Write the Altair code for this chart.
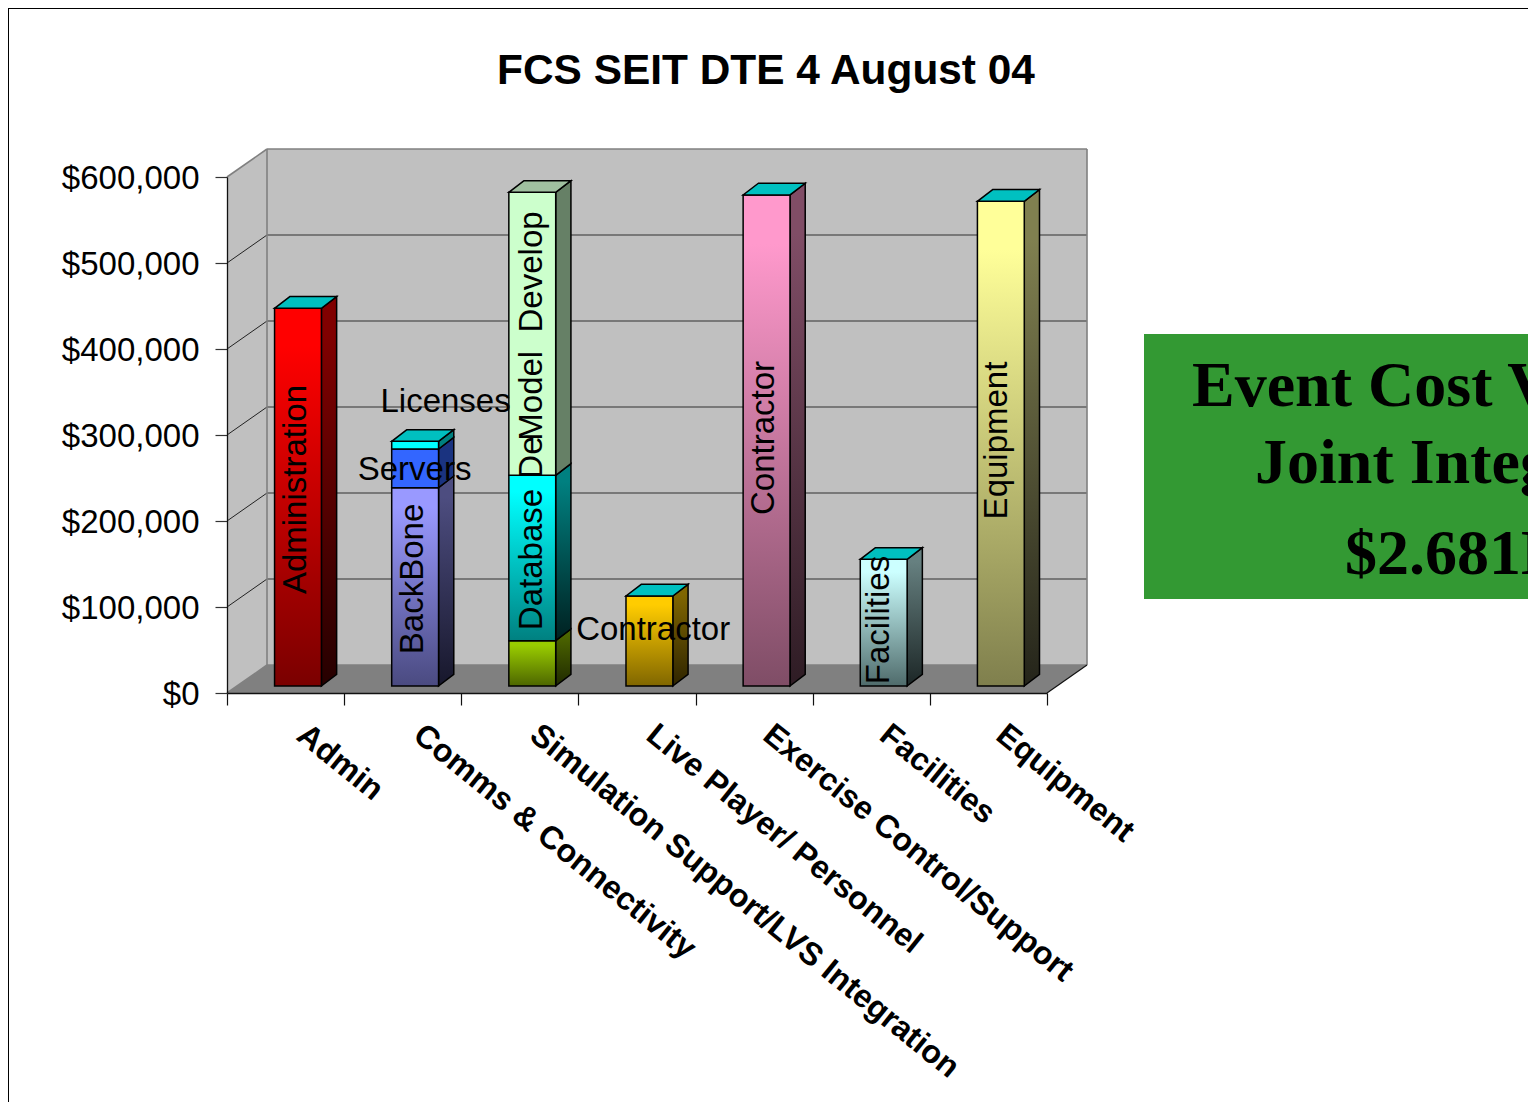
import altair as alt
import pandas as pd

# ---- chart values -------------------------------------------------------
categories = ["Admin", "Comms & Connectivity", "Simulation Support/LVS Integration",
              "Live Player/ Personnel", "Exercise Control/Support", "Facilities", "Equipment"]
y_ticks = [0, 100000, 200000, 300000, 400000, 500000, 600000]

seg_category = [0, 1, 1, 1, 2, 2, 2, 3, 4, 5, 6]
seg_low = [0, 0, 230600, 275600, 0, 52700, 245000, 0, 0, 0, 0]
seg_high = [439200, 230600, 275600, 284500, 52700, 245000, 574000, 104650, 571000, 147300, 563600]

front_top = ["#ff0000", "#9999ff", "#3366ff", "#00ffff", "#99cc00", "#00ffff", "#ccffcc", "#ffcc00", "#ff99cc", "#ccffff", "#ffff99"]
front_bot = ["#7a0000", "#4a4a80", "#3366ff", "#00ffff", "#4d6600", "#008080", "#ccffcc", "#806600", "#7f4d66", "#4f6b6b", "#7f7f4d"]
side_top = ["#800000", "#4d4d80", "#1a3380", "#008080", "#4d6600", "#008080", "#668066", "#806600", "#804d66", "#668080", "#808050"]
side_bot = ["#260000", "#17172b", "#1a3380", "#008080", "#1f2900", "#002020", "#668066", "#2e2400", "#2e1c24", "#1c2626", "#24241a"]
cap_colors = {0: "#00c0c0", 1: "#00c0c0", 2: "#a0c0a0", 3: "#00c0c0", 4: "#00c0c0", 5: "#00c0c0", 6: "#00c0c0"}

# rotated and horizontal data labels: text, x in category units, y in dollars, angle
label_text = ["Administration", "BackBone", "Database", "De", "Model\u00a0\u00a0Develop", "Contractor",
              "Facilities", "Equipment", "Licenses", "Servers", "Contractor"]
label_x = [0.675, 1.672, 2.692, 2.692, 2.685, 4.668, 5.653, 6.660, 1.866, 1.601, 3.638]
label_y = [236600, 132600, 155200, 273800, 426700, 296500, 84900, 293600, 327300, 247700, 61600]
label_angle = [270, 270, 270, 270, 270, 270, 270, 270, 0, 0, 0]

# ---- scales and 3-D geometry (in data units) ----------------------------
W, H = 1520, 1094
xs = alt.Scale(domain=[0, 7], range=[219, 1039], nice=False, zero=False)
ys = alt.Scale(domain=[0, 600000], range=[685, 169], nice=False, zero=False)
WALL_X, WALL_Y = 0.3415, 32558     # depth of the chart box
LIFT = 8140                        # bar front plane above the floor's front edge
SIDE_X, SIDE_Y = 0.1300, 13600     # depth of a bar
BAR_LEFT, BAR_W = 0.406, 0.40

x_axis = alt.Axis(values=list(range(8)), labels=False, grid=False, tickSize=12,
                  tickColor="#111111", domainColor="#111111", tickWidth=1.2,
                  domainWidth=1.3, offset=-(H - 685), zindex=1, title=None)
y_axis = alt.Axis(values=y_ticks, format="$,.0f", grid=False, tickSize=12,
                  tickColor="#333333", domainColor="#111111", tickWidth=1.2,
                  domainWidth=1.3, labelFont="Liberation Sans", labelFontSize=33,
                  labelColor="#000000", labelPadding=16, labelOffset=1.5, offset=-219, zindex=1,
                  title=None)


def X(f="x"):
    return alt.X(f"{f}:Q", scale=xs, axis=x_axis, title=None)


def Y(f="y"):
    return alt.Y(f"{f}:Q", scale=ys, axis=y_axis, title=None)


def grad(c0, c1):
    return alt.Gradient(gradient="linear", x1=0, x2=0, y1=0, y2=1,
                        stops=[alt.GradientStop(color=c0, offset=0.1),
                               alt.GradientStop(color=c1, offset=1)])


layers = []

# Floor
floor = pd.DataFrame({"x": [0, WALL_X], "x2": [7, 7 + WALL_X], "y": [0, WALL_Y]})
layers.append(alt.Chart(floor).mark_area(orient="horizontal", fill="#808080", opacity=1)
              .encode(x=X(), x2="x2:Q", y=Y()))
# Left wall
lw = pd.DataFrame({"x": [0, WALL_X], "y": [0, WALL_Y], "y2": [600000, 600000 + WALL_Y]})
layers.append(alt.Chart(lw).mark_area(orient="vertical", fill="#c0c0c0", opacity=1)
              .encode(x=X(), y=Y(), y2="y2:Q"))
# Back wall
bw = pd.DataFrame({"x": [WALL_X], "x2": [7 + WALL_X], "y": [WALL_Y], "y2": [600000 + WALL_Y]})
layers.append(alt.Chart(bw).mark_rect(fill="#c0c0c0", opacity=1)
              .encode(x=X(), x2="x2:Q", y=Y(), y2="y2:Q"))
# Gridlines
grid_vals = y_ticks[1:-1]
gl = pd.DataFrame({"x": [WALL_X] * 5, "x2": [7 + WALL_X] * 5, "y": [v + WALL_Y for v in grid_vals]})
layers.append(alt.Chart(gl).mark_rule(color="#303030", strokeWidth=1.2)
              .encode(x=X(), x2="x2:Q", y=Y()))
dg = pd.DataFrame({"x": [0] * 5, "x2": [WALL_X] * 5, "y": grid_vals, "y2": [v + WALL_Y for v in grid_vals]})
layers.append(alt.Chart(dg).mark_rule(color="#222222", strokeWidth=1)
              .encode(x=X(), x2="x2:Q", y=Y(), y2="y2:Q"))
# Grey box edges
edges = pd.DataFrame({
    "x":  [0, 0, WALL_X, WALL_X, 7 + WALL_X, WALL_X],
    "x2": [WALL_X, WALL_X, 7 + WALL_X, WALL_X, 7 + WALL_X, 7 + WALL_X],
    "y":  [0, 600000, 600000 + WALL_Y, WALL_Y, WALL_Y, WALL_Y],
    "y2": [WALL_Y, 600000 + WALL_Y, 600000 + WALL_Y, 600000 + WALL_Y, 600000 + WALL_Y, WALL_Y]})
layers.append(alt.Chart(edges).mark_rule(color="#808080", strokeWidth=1.6)
              .encode(x=X(), x2="x2:Q", y=Y(), y2="y2:Q"))
right_diag = pd.DataFrame({"x": [7], "x2": [7 + WALL_X], "y": [0], "y2": [WALL_Y]})
layers.append(alt.Chart(right_diag).mark_rule(color="#111111", strokeWidth=1.2)
              .encode(x=X(), x2="x2:Q", y=Y(), y2="y2:Q"))

# Bars
STROKE = dict(stroke="#000000", strokeWidth=1.5, opacity=1)
for i, cat in enumerate(seg_category):
    lo, hi = seg_low[i] + LIFT, seg_high[i] + LIFT
    left = cat + BAR_LEFT
    right = left + BAR_W
    face = pd.DataFrame({"x": [left], "x2": [right], "y": [lo], "y2": [hi]})
    side = pd.DataFrame({"x": [right, right + SIDE_X], "y": [lo, lo + SIDE_Y], "y2": [hi, hi + SIDE_Y]})
    layers.append(alt.Chart(side).mark_area(orient="vertical", fill=grad(side_top[i], side_bot[i]), **STROKE)
                  .encode(x=X(), y=Y(), y2="y2:Q"))
    layers.append(alt.Chart(face).mark_bar(fill=grad(front_top[i], front_bot[i]), **STROKE)
                  .encode(x=X(), x2="x2:Q", y=Y(), y2="y2:Q"))
    if i == len(seg_category) - 1 or seg_category[i + 1] != cat:
        cap = pd.DataFrame({"x": [left, left + SIDE_X], "x2": [right, right + SIDE_X],
                            "y": [hi, hi + SIDE_Y]})
        layers.append(alt.Chart(cap).mark_area(orient="horizontal", fill=cap_colors[cat], **STROKE)
                      .encode(x=X(), x2="x2:Q", y=Y()))

# Category labels
cat_df = pd.DataFrame({"x": [k * 0.995 + 0.58 for k in range(7)], "y": [-53000] * 7, "t": categories})
layers.append(alt.Chart(cat_df).mark_text(font="Liberation Sans", fontWeight="bold", fontSize=32.2,
                                          angle=39, align="left", baseline="alphabetic", color="#000000")
              .encode(x=X(), y=Y(), text="t:N"))

# Data labels
lab = pd.DataFrame({"x": label_x, "y": label_y, "t": label_text, "a": label_angle})
for ang, sub in lab.groupby("a"):
    layers.append(alt.Chart(sub).mark_text(font="Liberation Sans", fontSize=33, angle=int(ang), align="center",
                                           baseline="alphabetic", color="#000000")
                  .encode(x=X(), y=Y(), text="t:N"))

# Page furniture
one = pd.DataFrame({"a": [0]})
layers.append(alt.Chart(one).mark_rule(color="#000000", strokeWidth=1)
              .encode(x=alt.value(0.5), x2=alt.value(W), y=alt.value(0.5)))
layers.append(alt.Chart(one).mark_rule(color="#000000", strokeWidth=1)
              .encode(x=alt.value(0.5), y=alt.value(0), y2=alt.value(H)))
layers.append(alt.Chart(one).mark_text(text="FCS SEIT DTE 4 August 04", font="Liberation Sans", fontWeight="bold",
                                       fontSize=42.4, align="center", baseline="alphabetic", color="#000000")
              .encode(x=alt.value(758), y=alt.value(76)))
layers.append(alt.Chart(one).mark_rect(fill="#339933", opacity=1)
              .encode(x=alt.value(1136), x2=alt.value(W), y=alt.value(326), y2=alt.value(591)))
box_text = ["Event Cost V", "Joint Integ", "$2.681M"]
box_x = [1184, 1247, 1337]
box_y = [398, 475, 566]
for t, bx, by in zip(box_text, box_x, box_y):
    layers.append(alt.Chart(one).mark_text(text=t, font="Liberation Serif", fontWeight="bold", fontSize=64,
                                           align="left", baseline="alphabetic", color="#000000")
                  .encode(x=alt.value(bx), y=alt.value(by)))

chart = alt.layer(*layers).properties(
    width=W, height=H, padding=0, background="#ffffff",
    autosize=alt.AutoSizeParams(type="none"),
).configure_view(stroke=None)

chart.save("out.html", embed_options={"renderer": "svg", "actions": False})
